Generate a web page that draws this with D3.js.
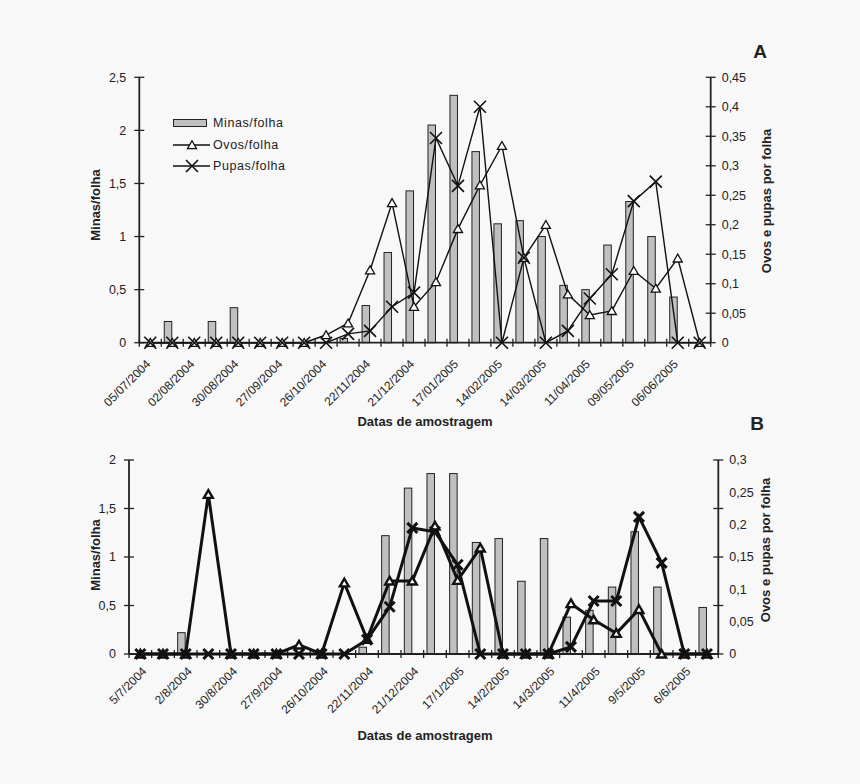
<!DOCTYPE html>
<html><head><meta charset="utf-8">
<script src="https://cdn.jsdelivr.net/npm/d3@7"></script>
<style>
html,body{margin:0;padding:0;background:#f8f8f8;}
svg{display:block;}
text{font-family:"Liberation Sans",Arial,sans-serif;fill:#222;}
</style></head>
<body>
<script>
// ---------- data ----------
const datesA = ["05/07/2004","19/07/2004","02/08/2004","16/08/2004","30/08/2004","13/09/2004","27/09/2004","11/10/2004","26/10/2004","08/11/2004","22/11/2004","06/12/2004","21/12/2004","03/01/2005","17/01/2005","31/01/2005","14/02/2005","28/02/2005","14/03/2005","28/03/2005","11/04/2005","25/04/2005","09/05/2005","23/05/2005","06/06/2005","20/06/2005"];
const datesB = ["5/7/2004","19/7/2004","2/8/2004","16/8/2004","30/8/2004","13/9/2004","27/9/2004","11/10/2004","26/10/2004","8/11/2004","22/11/2004","6/12/2004","21/12/2004","3/1/2005","17/1/2005","31/1/2005","14/2/2005","28/2/2005","14/3/2005","28/3/2005","11/4/2005","25/4/2005","9/5/2005","23/5/2005","6/6/2005","20/6/2005"];

const minasA = [0,0.2,0,0.2,0.33,0,0,0,0,0.04,0.35,0.85,1.43,2.05,2.33,1.8,1.12,1.15,1.0,0.54,0.5,0.92,1.33,1.0,0.43,0];
const ovosA  = [0,0,0,0,0,0,0,0,0.013,0.033,0.123,0.237,0.061,0.103,0.193,0.267,0.334,0.144,0.2,0.082,0.047,0.054,0.122,0.092,0.143,0];
const pupasA = [0,0,0,0,0,0,0,0,0,0.015,0.02,0.061,0.085,0.347,0.266,0.4,0,0.144,0,0.02,0.075,0.116,0.24,0.273,0,0];

const minasB = [0,0,0.22,0,0,0,0,0,0,0,0.07,1.22,1.71,1.86,1.86,1.15,1.19,0.75,1.19,0.38,0.45,0.69,1.26,0.69,0,0.48];
const ovosB  = [0,0,0,0.247,0,0,0,0.014,0,0.11,0.023,0.113,0.113,0.198,0.114,0.164,0,0,0,0.078,0.053,0.032,0.069,0,0,0];
const pupasB = [0,0,0,0,0,0,0,0,0,0,0.022,0.073,0.195,0.189,0.138,0,0,0,0,0.011,0.082,0.082,0.212,0.141,0,0];

const leftTicksA  = [0,0.5,1,1.5,2,2.5];
const rightTicksA = [0,0.05,0.1,0.15,0.2,0.25,0.3,0.35,0.4,0.45];
const leftTicksB  = [0,0.5,1,1.5,2];
const rightTickMarksB = [0,0.075,0.15,0.225,0.3];
const rightLabelsB = [0,0.05,0.1,0.15,0.2,0.25,0.3];

const legendNames = ["Minas/folha","Ovos/folha","Pupas/folha"];
const xTitle = "Datas de amostragem";
const yLeftTitle = "Minas/folha";
const yRightTitle = "Ovos e pupas por folha";

// ---------- drawing ----------
const W = 860, H = 784;
const svg = d3.select("body").append("svg").attr("width",W).attr("height",H);
svg.append("rect").attr("width",W).attr("height",H).attr("fill","#f8f8f8");
const fmt = v => String(+v.toFixed(3)).replace(".",",");
const AX = "#222";

function xMarker(r){ return `M${-r},${-r}L${r},${r}M${-r},${r}L${r},${-r}`; }

function drawPanel(cfg){
  const g = svg.append("g");
  const x = d3.scaleBand().domain(cfg.dates).range([cfg.x0,cfg.x1]).paddingInner(0).paddingOuter(0);
  const bw = x.bandwidth();
  const cx = d => x(d)+bw/2;
  const yL = d3.scaleLinear().domain([0,cfg.leftMax]).range([cfg.yB,cfg.yT]);
  const yR = d3.scaleLinear().domain([0,cfg.rightMax]).range([cfg.yB,cfg.yT]);

  // bars
  g.selectAll("rect.bar").data(cfg.dates.map((d,i)=>({d,v:cfg.minas[i]})).filter(o=>o.v>0))
    .enter().append("rect")
    .attr("x",o=>cx(o.d)-cfg.barW-0.5).attr("width",cfg.barW)
    .attr("y",o=>yL(o.v)).attr("height",o=>cfg.yB-yL(o.v))
    .attr("fill","#c0c0c0").attr("stroke","#222").attr("stroke-width",1);

  // x axis line + ticks at category boundaries
  g.append("line").attr("x1",cfg.x0).attr("x2",cfg.x1).attr("y1",cfg.yB).attr("y2",cfg.yB).attr("stroke",AX).attr("stroke-width",cfg.axW);
  const bounds = cfg.dates.map(d=>x(d)).concat([cfg.x1]);
  g.selectAll("line.xt").data(bounds).enter().append("line")
    .attr("x1",b=>b).attr("x2",b=>b).attr("y1",cfg.yB-4).attr("y2",cfg.yB+4)
    .attr("stroke",AX).attr("stroke-width",1.3);

  // x labels (every other category)
  g.selectAll("text.xl").data(cfg.dates.filter((d,i)=>i%2===0)).enter().append("text")
    .attr("text-anchor","end").attr("font-size",12)
    .attr("transform",d=>`translate(${cx(d)+cfg.lblDx},${cfg.yB+cfg.lblDy}) rotate(-45)`)
    .text(d=>d);

  // left axis
  g.append("line").attr("x1",cfg.x0).attr("x2",cfg.x0).attr("y1",cfg.yT).attr("y2",cfg.yB).attr("stroke",AX).attr("stroke-width",cfg.axW);
  g.selectAll("line.lt").data(cfg.leftTicks).enter().append("line")
    .attr("x1",cfg.x0-5).attr("x2",cfg.x0+5).attr("y1",v=>yL(v)).attr("y2",v=>yL(v)).attr("stroke",AX).attr("stroke-width",1.3);
  g.selectAll("text.ll").data(cfg.leftTicks).enter().append("text")
    .attr("x",cfg.x0-13).attr("y",v=>yL(v)).attr("dy","0.35em").attr("text-anchor","end").attr("font-size",12.5)
    .text(fmt);

  // right axis
  g.append("line").attr("x1",cfg.x1).attr("x2",cfg.x1).attr("y1",cfg.yT).attr("y2",cfg.yB).attr("stroke",AX).attr("stroke-width",cfg.axW);
  g.selectAll("line.rt").data(cfg.rightTickMarks).enter().append("line")
    .attr("x1",cfg.x1-5).attr("x2",cfg.x1+5).attr("y1",v=>yR(v)).attr("y2",v=>yR(v)).attr("stroke",AX).attr("stroke-width",1.3);
  g.selectAll("text.rl").data(cfg.rightLabels).enter().append("text")
    .attr("x",cfg.x1+11).attr("y",v=>yR(v)).attr("dy","0.35em").attr("text-anchor","start").attr("font-size",12.5)
    .text(fmt);

  // lines
  const ptsO = cfg.dates.map((d,i)=>[cx(d),yR(cfg.ovos[i])]);
  const ptsP = cfg.dates.map((d,i)=>[cx(d),yR(cfg.pupas[i])]);
  const line = d3.line();
  g.append("path").attr("d",line(ptsO)).attr("fill","none").attr("stroke","#111").attr("stroke-width",cfg.lineW).attr("stroke-linejoin","miter");
  g.append("path").attr("d",line(ptsP)).attr("fill","none").attr("stroke","#111").attr("stroke-width",cfg.lineW).attr("stroke-linejoin","miter");

  // markers
  const tri = d3.symbol().type(d3.symbolTriangle).size(cfg.triSize);
  g.selectAll("path.tri").data(ptsO).enter().append("path")
    .attr("d",tri).attr("transform",p=>`translate(${p[0]},${p[1]+1})`)
    .attr("fill","#fff").attr("stroke","#111").attr("stroke-width",cfg.markW);
  g.selectAll("path.xm").data(ptsP).enter().append("path")
    .attr("d",xMarker(cfg.xr)).attr("transform",p=>`translate(${p[0]},${p[1]})`)
    .attr("fill","none").attr("stroke","#111").attr("stroke-width",cfg.xW);

  // titles
  svg.append("text").attr("x",cfg.xTitleX).attr("y",cfg.xTitleY).attr("text-anchor","middle")
    .attr("font-size",13).attr("font-weight","bold").text(xTitle);
  svg.append("text").attr("transform",`translate(${cfg.yLTitleX},${cfg.yLTitleY}) rotate(-90)`).attr("text-anchor","middle")
    .attr("font-size",13).attr("font-weight","bold").attr("dy","0.35em").text(yLeftTitle);
  svg.append("text").attr("transform",`translate(${cfg.yRTitleX},${cfg.yRTitleY}) rotate(-90)`).attr("text-anchor","middle")
    .attr("font-size",13).attr("font-weight","bold").attr("dy","0.35em").text(yRightTitle);
  svg.append("text").attr("x",cfg.letterX).attr("y",cfg.letterY).attr("text-anchor","middle")
    .attr("font-size",19).attr("font-weight","bold").text(cfg.letter);
}

drawPanel({
  dates:datesA, minas:minasA, ovos:ovosA, pupas:pupasA,
  x0:139.3, x1:710.7, yT:77.3, yB:342.7, leftMax:2.5, rightMax:0.45,
  leftTicks:leftTicksA, rightTickMarks:rightTicksA, rightLabels:rightTicksA,
  barW:7.5, axW:1.8, lineW:1.4, markW:1.3, xW:1.6, xr:6, triSize:36,
  lblDx:1, lblDy:22,
  xTitleX:425, xTitleY:426, yLTitleX:95, yLTitleY:205, yRTitleX:766, yRTitleY:201,
  letter:"A", letterX:760, letterY:58
});
drawPanel({
  dates:datesB, minas:minasB, ovos:ovosB, pupas:pupasB,
  x0:129, x1:718.3, yT:460, yB:654, leftMax:2, rightMax:0.3,
  leftTicks:leftTicksB, rightTickMarks:rightTickMarksB, rightLabels:rightLabelsB,
  barW:7.5, axW:1.8, lineW:3, markW:2.4, xW:3, xr:5, triSize:34,
  lblDx:7, lblDy:18,
  xTitleX:425, xTitleY:740, yLTitleX:95, yLTitleY:555, yRTitleX:765, yRTitleY:550,
  letter:"B", letterX:757, letterY:430
});

// legend (panel A)
const lg = svg.append("g");
const legY = [123,145,166];
lg.append("rect").attr("x",173.5).attr("y",legY[0]-3.5).attr("width",33).attr("height",7)
  .attr("fill","#c0c0c0").attr("stroke","#222").attr("stroke-width",1);
lg.append("line").attr("x1",173).attr("x2",210).attr("y1",legY[1]).attr("y2",legY[1]).attr("stroke","#111").attr("stroke-width",1.4);
lg.append("path").attr("d",d3.symbol().type(d3.symbolTriangle).size(36)).attr("transform",`translate(192,${legY[1]+1})`)
  .attr("fill","#fff").attr("stroke","#111").attr("stroke-width",1.3);
lg.append("line").attr("x1",173).attr("x2",210).attr("y1",legY[2]).attr("y2",legY[2]).attr("stroke","#111").attr("stroke-width",1.4);
lg.append("path").attr("d",xMarker(6)).attr("transform",`translate(192,${legY[2]})`)
  .attr("fill","none").attr("stroke","#111").attr("stroke-width",1.6);
lg.selectAll("text.lt").data(legendNames).enter().append("text")
  .attr("x",213).attr("y",(d,i)=>legY[i]).attr("dy","0.35em").attr("font-size",12.5)
  .attr("letter-spacing",0.6).text(d=>d);
</script>
</body></html>
